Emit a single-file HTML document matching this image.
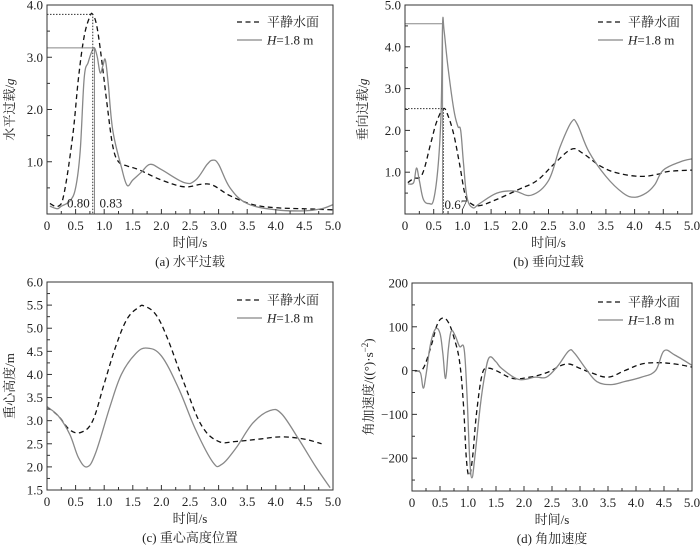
<!DOCTYPE html>
<html><head><meta charset="utf-8"><style>
body{margin:0;background:#fff}
svg{display:block;font-family:"Liberation Serif","Noto Serif CJK SC","Noto Sans CJK SC",serif}
</style></head><body>
<svg id="fig" width="700" height="546" viewBox="0 0 700 546" xmlns="http://www.w3.org/2000/svg"></svg>
<script>
// ---- Panel (a) data: horizontal overload ----
const aCalmX=[0.05,0.2,0.3,0.45,0.55,0.65,0.75,0.8,0.87,0.95,1.05,1.15,1.25,1.4,1.6,2.0,2.4,2.7,2.9,3.2,3.6,4.0,4.5,5.0];
const aCalmY=[0.2,0.15,0.4,1.5,2.6,3.4,3.78,3.82,3.6,3.0,2.1,1.3,1.0,0.92,0.85,0.65,0.52,0.57,0.55,0.35,0.18,0.12,0.1,0.08];
const aWaveX=[0.05,0.18,0.25,0.4,0.5,0.58,0.65,0.72,0.78,0.83,0.88,0.93,0.98,1.02,1.07,1.15,1.3,1.4,1.5,1.65,1.8,2.0,2.4,2.6,2.8,2.9,3.0,3.2,3.5,4.0,4.5,4.8,5.0];
const aWaveY=[0.15,0.1,0.15,0.25,0.5,1.2,2.6,2.9,3.1,3.18,3.0,2.7,2.85,2.95,2.5,1.6,0.9,0.55,0.65,0.8,0.95,0.85,0.6,0.65,0.95,1.03,0.95,0.5,0.2,0.08,0.06,0.1,0.18];
const aYTicks=["1.0","2.0","3.0","4.0"];
// ---- Panel (b) data: vertical overload ----
const bCalmX=[0.05,0.15,0.3,0.45,0.55,0.67,0.75,0.85,0.95,1.05,1.15,1.3,1.6,2.0,2.3,2.6,2.9,3.1,3.4,3.7,4.1,4.4,4.6,5.0];
const bCalmY=[0.75,0.85,0.95,1.7,2.2,2.52,2.35,1.9,1.2,0.45,0.25,0.2,0.35,0.6,0.8,1.2,1.55,1.45,1.15,0.98,0.9,0.95,1.02,1.05];
const bWaveX=[0.05,0.15,0.2,0.25,0.32,0.42,0.5,0.58,0.63,0.655,0.68,0.75,0.85,0.92,0.97,1.02,1.08,1.18,1.3,1.6,1.9,2.2,2.5,2.7,2.9,3.0,3.2,3.5,3.8,4.0,4.2,4.35,4.5,4.8,5.0];
const bWaveY=[0.72,0.75,1.1,0.8,0.35,0.25,0.35,1.2,2.5,4.55,4.4,3.5,2.5,2.1,2.0,1.2,0.4,0.15,0.25,0.5,0.55,0.45,0.8,1.6,2.2,2.15,1.5,0.9,0.5,0.4,0.5,0.7,1.05,1.25,1.32];
const bYTicks=["1.0","2.0","3.0","4.0","5.0"];
// ---- Panel (c) data: CG height ----
const cCalmX=[0,0.2,0.4,0.6,0.8,1.0,1.2,1.4,1.6,1.7,1.9,2.1,2.4,2.7,3.0,3.3,3.7,4.1,4.5,4.8];
const cCalmY=[3.3,3.1,2.8,2.75,3.0,3.8,4.6,5.2,5.45,5.48,5.3,4.8,3.8,2.9,2.55,2.55,2.6,2.65,2.6,2.5];
const cWaveX=[0,0.2,0.4,0.55,0.7,0.85,1.1,1.3,1.55,1.75,2.0,2.3,2.6,2.9,3.05,3.3,3.6,3.9,4.1,4.4,4.7,4.95];
const cWaveY=[3.3,3.1,2.7,2.2,2.0,2.3,3.3,4.0,4.45,4.57,4.4,3.7,2.8,2.1,2.05,2.4,2.95,3.22,3.15,2.6,2.0,1.55];
const cYTicks=["1.5","2.0","2.5","3.0","3.5","4.0","4.5","5.0","5.5","6.0"];
// ---- Panel (d) data: angular acceleration ----
const dCalmX=[0.05,0.2,0.35,0.45,0.55,0.65,0.75,0.85,0.92,0.97,1.02,1.08,1.15,1.25,1.35,1.5,1.8,2.1,2.4,2.75,3.0,3.2,3.5,3.8,4.1,4.4,4.7,5.0];
const dCalmY=[0,5,60,105,120,110,75,20,-80,-200,-240,-200,-100,-10,5,0,-18,-15,-5,15,5,-5,-15,0,15,18,15,8];
const dWaveX=[0.05,0.15,0.2,0.25,0.33,0.42,0.5,0.55,0.6,0.65,0.7,0.77,0.85,0.93,0.98,1.03,1.07,1.12,1.22,1.3,1.38,1.5,1.6,1.9,2.2,2.4,2.6,2.8,2.9,3.1,3.3,3.55,3.8,4.1,4.35,4.5,4.7,5.0];
const dWaveY=[-2,-5,-40,-10,60,95,85,40,-18,50,90,80,55,50,-50,-200,-245,-200,-80,-10,30,20,5,-20,-15,-15,10,45,40,5,-25,-32,-25,-15,0,45,35,12];
const dYTicks=["-200","-100","0","100","200"];
const xTicks=["0","0.5","1.0","1.5","2.0","2.5","3.0","3.5","4.0","4.5","5.0"];

const NS="http://www.w3.org/2000/svg";
const svg=document.getElementById('fig');
function mk(tag,attrs,parent,text){const e=document.createElementNS(NS,tag);for(const k in attrs)e.setAttribute(k,attrs[k]);if(text!==undefined)e.textContent=text;(parent||svg).appendChild(e);return e;}
function smooth(pts){let d=`M${pts[0][0]},${pts[0][1]}`;for(let i=0;i<pts.length-1;i++){const p0=pts[i-1]||pts[i],p1=pts[i],p2=pts[i+1],p3=pts[i+2]||p2;const t=0.18;
const c1=[p1[0]+(p2[0]-p0[0])*t,p1[1]+(p2[1]-p0[1])*t],c2=[p2[0]-(p3[0]-p1[0])*t,p2[1]-(p3[1]-p1[1])*t];d+=`C${c1[0]},${c1[1]} ${c2[0]},${c2[1]} ${p2[0]},${p2[1]}`;}return d;}

function panel(o){
  const g=mk('g',{});
  
  
  const sx=v=>o.L+(v-0)/5*(o.R-o.L);
  const sy=v=>o.B-(v-o.ymin)/(o.ymax-o.ymin)*(o.B-o.T);
  // series
  const calm=mk('path',{d:smooth(o.cx.map((x,i)=>[sx(x),sy(o.cy[i])])),fill:'none',stroke:'#111','stroke-width':1.3,'stroke-dasharray':'5,3.5'},g);
  
  
  const wave=mk('path',{d:smooth(o.wx.map((x,i)=>[sx(x),sy(o.wy[i])])),fill:'none',stroke:'#888','stroke-width':1.3},g);
  
  
  if(o.extra)o.extra(g,sx,sy);
  // frame
  const fr=mk('rect',{x:o.L,y:o.T,width:o.R-o.L,height:o.B-o.T,fill:'none',stroke:'#333','stroke-width':1},g);
  
  
  // x ticks
  for(let i=0;i<=20;i++){const x=o.L+i/20*(o.R-o.L);const len=i%2==0?5:3;
    mk('line',{x1:x,x2:x,y1:o.B,y2:o.B-len,stroke:'#333'},g);}
  xTicks.forEach((t,i)=>{const tx=mk('text',{x:sx(parseFloat(t)),y:o.B+16,'font-size':13,'text-anchor':'middle',fill:'#222'},g,t);
    
    });
  // y ticks
  const step=o.ystep;const nMinor=Math.round((o.ymax-o.ymin)/(step/2));
  for(let i=0;i<=nMinor;i++){const v=o.ymax-i*step/2; if(v<o.ymin-1e-9)break;const y=sy(v);const major=Math.abs(Math.round((v-o.ymaj0)/step)*step-(v-o.ymaj0))<1e-6;
    mk('line',{x1:o.L,x2:o.L+(major?5:3),y1:y,y2:y,stroke:'#333'},g);}
  o.yt.forEach(t=>{const v=parseFloat(t);const tx=mk('text',{x:o.L-4,y:sy(v)+4.5,'font-size':13,'text-anchor':'end',fill:'#222'},g,t.replace('-','\u2212'));
    
    });
  const z=mk('text',{x:sx(0),y:o.B+16,'font-size':13,'text-anchor':'middle',fill:'#222'},g,'');
  // axis titles
  const xt=mk('text',{x:(o.L+o.R)/2,y:o.B+33,'font-size':13,'text-anchor':'middle',fill:'#222'},g,'时间/s');
  
  
  const yt=mk('text',{x:0,y:0,'font-size':13,'text-anchor':'middle',fill:'#222',transform:`translate(${o.ytx},${(o.T+o.B)/2}) rotate(-90)`},g);
  yt.innerHTML=o.ylab;
  
  
  const cap=mk('text',{x:(o.L+o.R)/2,y:o.B+52,'font-size':13,'text-anchor':'middle',fill:'#222'},g,o.cap);
  
  
  // legend
  const lg=mk('g',{},g);
  
  
  mk('line',{x1:o.lx,x2:o.lx+25,y1:o.ly,y2:o.ly,stroke:'#111','stroke-width':1.3,'stroke-dasharray':'5,3.5'},lg);
  mk('text',{x:o.lx+30,y:o.ly+4.5,'font-size':13,fill:'#222'},lg,'平静水面');
  mk('line',{x1:o.lx,x2:o.lx+25,y1:o.ly+18,y2:o.ly+18,stroke:'#888','stroke-width':1.3},lg);
  const t2=mk('text',{x:o.lx+30,y:o.ly+22.5,'font-size':13,fill:'#222'},lg);
  t2.innerHTML='<tspan font-style="italic">H</tspan>=1.8 m';
}

panel({name:'panel-a-horizontal-overload',L:47,R:333,T:5,B:214,ymin:0,ymax:4,ystep:1,ymaj0:0,yt:aYTicks,cx:aCalmX,cy:aCalmY,wx:aWaveX,wy:aWaveY,
  ytx:14,ylab:'水平过载/<tspan font-style="italic">g</tspan>',cap:'(a) 水平过载',lx:237,ly:22,
  extra:(g,sx,sy)=>{
    mk('polyline',{points:`${sx(0)},${sy(3.82)} ${sx(0.8)},${sy(3.82)} ${sx(0.8)},${sy(0)}`,fill:'none',stroke:'#333','stroke-width':1,'stroke-dasharray':'1.5,1.5'},g);
    mk('polyline',{points:`${sx(0)},${sy(3.18)} ${sx(0.83)},${sy(3.18)} ${sx(0.83)},${sy(0)}`,fill:'none',stroke:'#888','stroke-width':1},g);
    mk('text',{x:sx(0.8)-3,y:sy(0.12),'font-size':13,'text-anchor':'end',fill:'#222'},g,'0.80');
    mk('text',{x:sx(0.83)+5,y:sy(0.12),'font-size':13,fill:'#222'},g,'0.83');
  }});
panel({name:'panel-b-vertical-overload',L:405,R:692,T:5,B:214,ymin:0,ymax:5,ystep:1,ymaj0:0,yt:bYTicks,cx:bCalmX,cy:bCalmY,wx:bWaveX,wy:bWaveY,
  ytx:367,ylab:'垂向过载/<tspan font-style="italic">g</tspan>',cap:'(b) 垂向过载',lx:598,ly:22,
  extra:(g,sx,sy)=>{
    mk('polyline',{points:`${sx(0)},${sy(2.52)} ${sx(0.67)},${sy(2.52)} ${sx(0.67)},${sy(0)}`,fill:'none',stroke:'#333','stroke-width':1,'stroke-dasharray':'1.5,1.5'},g);
    mk('polyline',{points:`${sx(0)},${sy(4.55)} ${sx(0.655)},${sy(4.55)} ${sx(0.655)},${sy(0)}`,fill:'none',stroke:'#888','stroke-width':1},g);
    mk('text',{x:sx(0.67)+1,y:sy(0.12),'font-size':13,fill:'#222'},g,'0.67');
  }});
panel({name:'panel-c-cg-height',L:47,R:333,T:282,B:490,ymin:1.5,ymax:6,ystep:0.5,ymaj0:1.5,yt:cYTicks,cx:cCalmX,cy:cCalmY,wx:cWaveX,wy:cWaveY,
  ytx:14,ylab:'重心高度/m',cap:'(c) 重心高度位置',lx:237,ly:300});
panel({name:'panel-d-angular-acceleration',L:412,R:692,T:283,B:491,ymin:-275,ymax:200,ystep:100,ymaj0:0,yt:dYTicks,cx:dCalmX,cy:dCalmY,wx:dWaveX,wy:dWaveY,
  ytx:373,ylab:'角加速度/((°)·s<tspan baseline-shift="super" font-size="9">−2</tspan>)',cap:'(d) 角加速度',lx:598,ly:302});
</script>
</body></html>
